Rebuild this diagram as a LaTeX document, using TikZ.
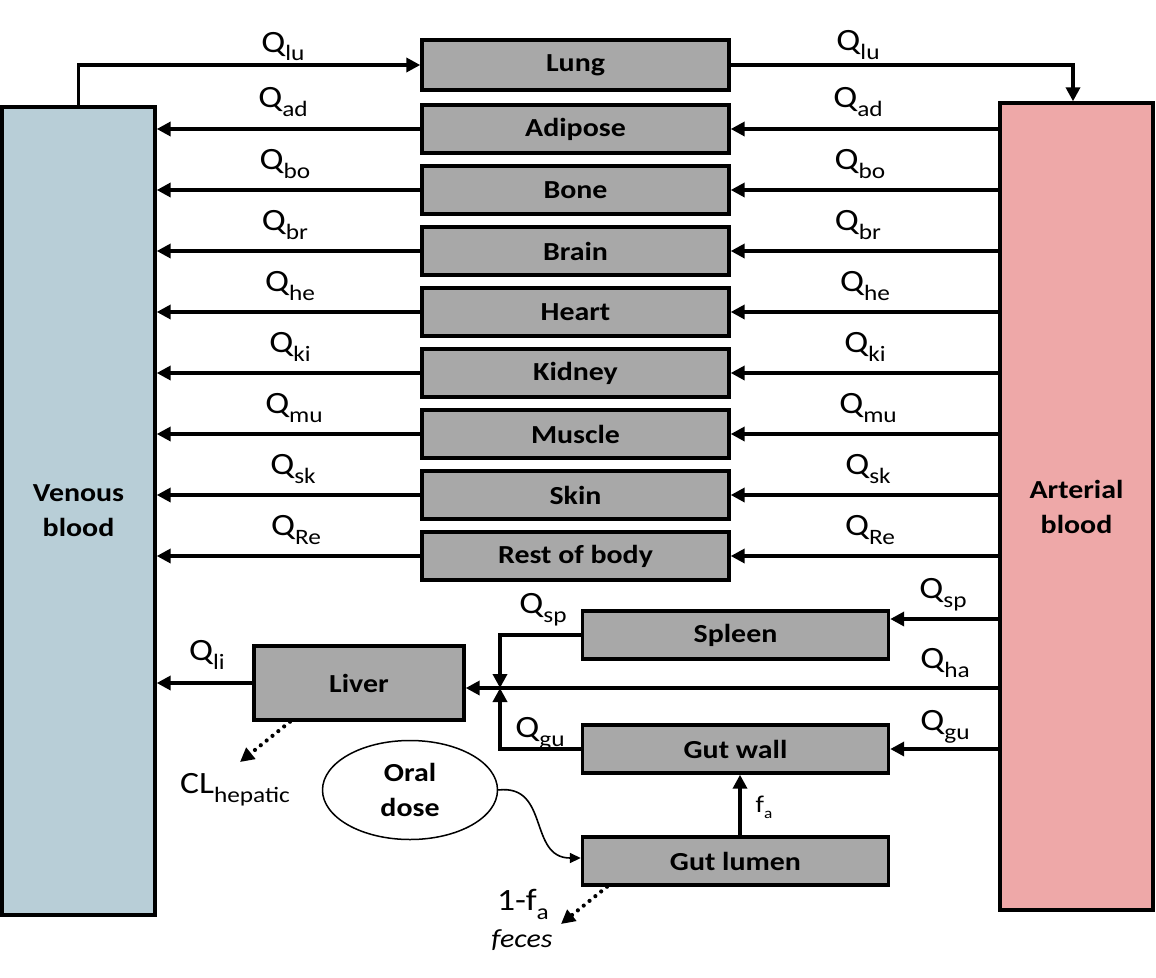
\documentclass[tikz,border=0pt]{standalone}
\usepackage{fontspec}
\setmainfont{Carlito}[FakeStretch=1.15]
\usetikzlibrary{arrows.meta,shapes.geometric}
\definecolor{venousc}{RGB}{184,206,215}
\definecolor{arterialc}{RGB}{238,168,168}
\definecolor{organc}{RGB}{168,168,168}
\newcommand\Qsub[2]{#1\raisebox{-9pt}{\fontsize{22}{22}\selectfont #2}}
\begin{document}
\begin{tikzpicture}[x=1pt,y=-1pt,
  organ/.style={draw, line width=3.4pt, fill=organc, minimum width=307pt, minimum height=48pt, inner sep=0pt, font=\bfseries\fontsize{26}{28}\selectfont},
  blood/.style={draw, line width=3.4pt, minimum width=153pt, inner sep=0pt, align=center, font=\bfseries\fontsize{26}{35}\selectfont},
  flow/.style={line width=3.6pt, -{Triangle[length=14pt,width=14pt]}},
  dotflow/.style={line width=4.2pt, line cap=round, dash pattern=on 0pt off 7.5pt, -{Triangle[length=14pt,width=14pt]}},
  ql/.style={anchor=base, inner sep=0pt, font=\fontsize{31}{33}\selectfont}]
\useasboundingbox (0,0) rectangle (1156,977);
\fill[white] (0,0) rectangle (1156,977);

% blood compartments
\node[blood, fill=venousc, minimum height=808pt] (ven) at (78.5,511) {Venous\\blood};
\node[blood, fill=arterialc, minimum height=807pt] (art) at (1076.5,506.5) {Arterial\\blood};

% organs
\node[organ, minimum height=50pt] (lung) at (575.5,65) {Lung};
\node[organ] (ad) at (575.5,129) {Adipose};
\node[organ] (bo) at (575.5,190) {Bone};
\node[organ] (br) at (575.5,251) {Brain};
\node[organ] (he) at (575.5,312) {Heart};
\node[organ] (ki) at (575.5,373) {Kidney};
\node[organ] (mu) at (575.5,434) {Muscle};
\node[organ] (sk) at (575.5,495) {Skin};
\node[organ] (re) at (575.5,556) {Rest of body};

\node[organ, minimum width=306pt] (sp) at (735.5,635) {Spleen};
\node[organ, minimum width=210pt, minimum height=74pt] (li) at (359,683) {Liver};
\node[organ, minimum width=306pt] (gw) at (735.5,749) {Gut wall};
\node[organ, minimum width=306pt] (gl) at (735.5,861) {Gut lumen};
\node[ellipse, draw, line width=1.5pt, minimum width=175pt, minimum height=99pt, inner sep=0pt, align=center, font=\bfseries\fontsize{26}{35}\selectfont] (oral) at (410,790) {Oral\\dose};

% lung loop
\draw[flow] (ven.north) |- (lung.west);
\draw[flow] (lung.east) -| ([xshift=-3.5pt]art.north);

% organ flows
\foreach \o in {ad,bo,br,he,ki,mu,sk,re}{
  \draw[flow] (art.west |- \o) -- (\o.east);
  \draw[flow] (\o.west) -- (ven.east |- \o);
}

% splanchnic
\coordinate (spin) at ([yshift=16pt]sp.east);
\draw[flow] (spin -| art.west) -- (spin);
\coordinate (ha) at ([yshift=-5pt]li.east);
\draw[flow] (ha -| art.west) -- (ha);
\coordinate (jn) at (500,688);
\draw[flow] (sp.west) -| (jn);
\draw[flow] (gw.west) -| (jn);
\draw[flow] (gw.east -| art.west) -- (gw.east);
\draw[flow] ([xshift=4.5pt]gl.north) -- ([xshift=4.5pt]gw.south);
\draw[flow] (li.west) -- (ven.east |- li);
\draw[line width=1.6pt, -{Triangle[length=11pt,width=10pt]}] (oral.east) .. controls (550,784) and (528,858) .. ([yshift=3pt]gl.west);

% elimination
\coordinate (clend) at (240,762);
\draw[dotflow] ([xshift=-69pt]li.south) -- (clend);
\coordinate (feend) at (561,924);
\draw[dotflow] ([xshift=-128.5pt]gl.south) -- (feend);

% labels left
\node[ql] (l1) at (283,52) {\Qsub{Q}{lu}};
\node[ql] (l2) at (283,107) {\Qsub{Q}{ad}};
\node[ql] (l3) at (285,169) {\Qsub{Q}{bo}};
\node[ql] (l4) at (285,230) {\Qsub{Q}{br}};
\node[ql] (l5) at (290,291) {\Qsub{Q}{he}};
\node[ql] (l6) at (290,352) {\Qsub{Q}{ki}};
\node[ql] (l7) at (294,413) {\Qsub{Q}{mu}};
\node[ql] (l8) at (293,474) {\Qsub{Q}{sk}};
\node[ql] (l9) at (296,535) {\Qsub{Q}{Re}};
% labels right
\node[ql] (r1) at (858,50) {\Qsub{Q}{lu}};
\node[ql] (r2) at (858,107) {\Qsub{Q}{ad}};
\node[ql] (r3) at (860,169) {\Qsub{Q}{bo}};
\node[ql] (r4) at (858,230) {\Qsub{Q}{br}};
\node[ql] (r5) at (865,291) {\Qsub{Q}{he}};
\node[ql] (r6) at (865,352) {\Qsub{Q}{ki}};
\node[ql] (r7) at (868,413) {\Qsub{Q}{mu}};
\node[ql] (r8) at (868,474) {\Qsub{Q}{sk}};
\node[ql] (r9) at (870,535) {\Qsub{Q}{Re}};
% splanchnic labels
\node[ql] (qsp2) at (943,598) {\Qsub{Q}{sp}};
\node[ql] (qha) at (945,668) {\Qsub{Q}{ha}};
\node[ql] (qgu2) at (945,730) {\Qsub{Q}{gu}};
\node[ql] (qsp1) at (543,613) {\Qsub{Q}{sp}};
\node[ql] (qgu1) at (540,737) {\Qsub{Q}{gu}};
\node[ql] (qli) at (207,660) {\Qsub{Q}{li}};
\node[ql] (clh) at (235,793) {\Qsub{CL}{hepatic}};
\node[ql, font=\fontsize{24}{26}\selectfont] (fa) at (764,812) {f\raisebox{-6pt}{\fontsize{15}{15}\selectfont a}};
\node[ql] (omf) at (523,910) {1-\Qsub{f}{a}};
\node[ql, font=\itshape\fontsize{26}{28}\selectfont] (fec) at (522,947) {feces};
\end{tikzpicture}
\end{document}
